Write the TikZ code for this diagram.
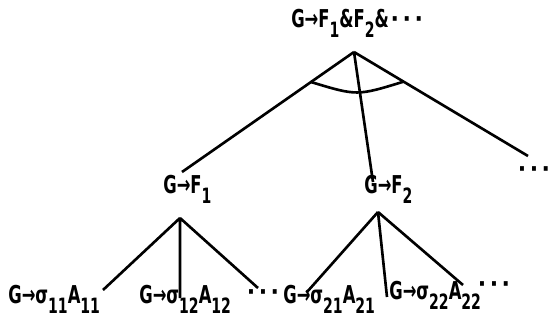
\documentclass[tikz,border=0pt]{standalone}
\usepackage{fontspec}
\usetikzlibrary{calc}
\setmainfont{DejaVu Sans Condensed}
\newcommand\sbs[1]{\raisebox{-0.75ex}{\fontsize{12}{13}\selectfont #1}}
\newcommand\lbl[1]{\scalebox{0.74}[1]{#1}}
\newcommand\ddd{·\hspace{2pt}·\hspace{2pt}·}
\begin{document}
\begin{tikzpicture}[x=0.02cm,y=-0.02cm,line width=1.5pt,every node/.style={inner sep=0pt,font=\fontsize{14}{16}\selectfont\bfseries}]
\useasboundingbox (0,0) rectangle (549,329);
\node[anchor=base west] (root) at (290,27) {\lbl{G→F\sbs{1}\&F\sbs{2}\&}\hspace{1pt}\ddd};
\node[anchor=base west] (f1) at (162,193) {\lbl{G→F\sbs{1}}};
\node[anchor=base west] (f2) at (363,193) {\lbl{G→F\sbs{2}}};
\node (rdots) at (534,172) {\ddd};
\node[anchor=base west] (s11) at (7,303) {\lbl{G→σ\sbs{11}A\sbs{11}}};
\node[anchor=base west] (s12) at (138,303) {\lbl{G→σ\sbs{12}A\sbs{12}}};
\node (dots1) at (263,295) {\ddd};
\node[anchor=base west] (s21) at (282,303) {\lbl{G→σ\sbs{21}A\sbs{21}}};
\node[anchor=base west] (s22) at (388,299) {\lbl{G→σ\sbs{22}A\sbs{22}}};
\node (dots2) at (494,287) {\ddd};
% apexes and line ends
\coordinate (ra) at (354,52);
\coordinate (ra1) at (182,172);
\coordinate (ra2) at (373,182);
\coordinate (ra3) at (528,156);
\coordinate (fa1) at (180,218);
\coordinate (fa2) at (378,212);
\draw (ra)--(ra1) (ra)--(ra2) (ra)--(ra3);
\draw ($(ra)!0.25!(ra1)$) coordinate (arcl) .. controls (357,96) .. ($(ra)!0.285!(ra3)$) coordinate (arcr);
\draw (fa1)--(103,290) coordinate (e11) (fa1)--(180,298) coordinate (e12) (fa1)--(258,288) coordinate (e13);
\draw (fa2)--(307,292) coordinate (e21) (fa2)--(387,297) coordinate (e22) (fa2)--(463,285) coordinate (e23);
\end{tikzpicture}
\end{document}
